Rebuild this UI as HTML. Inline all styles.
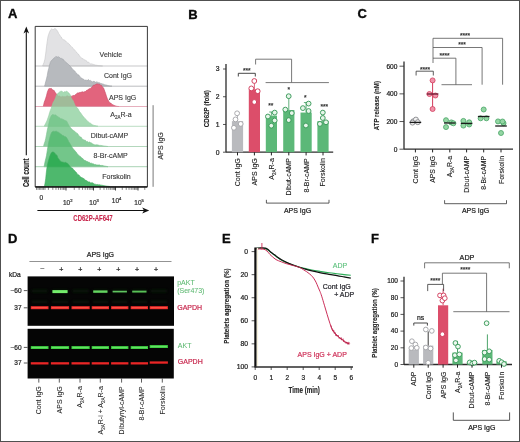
<!DOCTYPE html>
<html><head><meta charset="utf-8"><style>
html,body{margin:0;padding:0;background:#fff;}
body{width:520px;height:442px;overflow:hidden;}
svg{display:block;font-family:"Liberation Sans", sans-serif;will-change:transform;}
</style></head><body>
<svg width="520" height="442" viewBox="0 0 520 442">
<rect x="0" y="0" width="520" height="442" fill="#fff"/>
<text x="7.9" y="18.3" font-size="13" text-anchor="start" fill="#0a0a0a" font-weight="bold" stroke="#0a0a0a" stroke-width="0.35" >A</text>
<text x="188.3" y="18.5" font-size="13" text-anchor="start" fill="#0a0a0a" font-weight="bold" stroke="#0a0a0a" stroke-width="0.35" >B</text>
<text x="357.6" y="18.2" font-size="13" text-anchor="start" fill="#0a0a0a" font-weight="bold" stroke="#0a0a0a" stroke-width="0.35" >C</text>
<text x="8.0" y="242.5" font-size="13" text-anchor="start" fill="#0a0a0a" font-weight="bold" stroke="#0a0a0a" stroke-width="0.35" >D</text>
<text x="221.9" y="242.6" font-size="13" text-anchor="start" fill="#0a0a0a" font-weight="bold" stroke="#0a0a0a" stroke-width="0.35" >E</text>
<text x="371" y="242.6" font-size="13" text-anchor="start" fill="#0a0a0a" font-weight="bold" stroke="#0a0a0a" stroke-width="0.35" >F</text>
<path d="M42.60,66.00 L43.22,64.54 L44.10,62.26 L44.90,59.30 L45.75,53.16 L46.50,46.84 L47.21,41.52 L48.00,36.55 L48.75,34.19 L49.59,32.00 L50.30,30.51 L50.83,29.65 L51.50,28.99 L52.06,29.38 L52.75,29.46 L53.51,29.52 L54.26,28.90 L54.90,28.62 L55.75,28.99 L56.47,29.63 L57.20,30.70 L57.94,31.90 L58.67,33.52 L59.50,34.65 L60.04,35.58 L60.61,36.46 L61.21,36.94 L61.87,38.31 L62.60,39.04 L63.18,39.77 L63.80,39.83 L64.47,40.07 L65.15,40.58 L65.84,41.19 L66.53,42.03 L67.20,42.65 L67.86,43.05 L68.51,43.40 L69.17,44.03 L69.82,45.23 L70.48,45.56 L71.14,46.39 L71.80,47.23 L72.47,47.43 L73.14,48.40 L73.82,49.70 L74.49,49.72 L75.17,50.63 L75.84,51.53 L76.50,52.11 L77.15,53.15 L77.79,53.85 L78.43,54.07 L79.07,55.22 L79.71,56.08 L80.35,56.91 L81.00,57.79 L81.66,58.19 L82.33,58.58 L83.01,58.59 L83.68,59.45 L84.36,59.75 L85.03,60.18 L85.70,60.37 L86.35,60.76 L86.97,61.31 L87.59,62.37 L88.22,62.16 L88.87,62.44 L89.56,63.14 L90.30,63.85 L90.86,64.08 L91.44,63.89 L92.05,63.82 L92.67,64.25 L93.31,64.40 L93.95,64.51 L94.60,64.83 L95.24,65.05 L95.88,65.14 L96.50,65.24 L97.14,65.36 L97.82,65.51 L98.53,65.58 L99.24,65.65 L99.94,65.73 L100.60,65.76 L101.22,65.85 L101.77,65.91 L102.24,65.96 L102.60,66.00 L102.6,66.0 L42.6,66.0 Z" fill="#e2e2e4" fill-opacity="1.0" stroke="#c6c6c8" stroke-width="0.6"/>
<line x1="35.2" y1="66.0" x2="147.4" y2="66.0" stroke="#b9b9bb" stroke-width="0.8"/>
<text x="99.6" y="57.0" font-size="7" text-anchor="start" fill="#3a3a3a" font-weight="normal" stroke="#3a3a3a" stroke-width="0.14" >Vehicle</text>
<path d="M44.50,86.20 L45.04,84.48 L45.80,81.35 L46.50,78.87 L47.23,75.63 L48.00,71.16 L48.68,68.67 L49.44,65.38 L50.30,62.45 L50.87,61.35 L51.48,60.61 L52.12,59.84 L52.77,59.54 L53.40,58.55 L54.02,57.83 L54.64,57.69 L55.27,57.14 L55.89,56.47 L56.50,56.70 L57.10,57.11 L57.70,56.91 L58.30,56.70 L58.90,57.16 L59.50,57.52 L60.09,57.75 L60.66,58.51 L61.25,58.27 L61.88,59.07 L62.60,58.97 L63.18,59.25 L63.80,60.11 L64.47,61.03 L65.15,61.73 L65.84,62.23 L66.53,62.73 L67.20,63.29 L67.86,64.00 L68.51,64.44 L69.17,65.12 L69.82,65.90 L70.48,66.45 L71.14,67.32 L71.80,68.06 L72.47,69.28 L73.14,69.77 L73.82,70.18 L74.49,70.78 L75.17,71.58 L75.84,72.65 L76.50,73.15 L77.15,73.97 L77.79,75.21 L78.43,74.80 L79.07,75.32 L79.71,76.32 L80.35,77.16 L81.00,77.77 L81.66,78.06 L82.33,78.72 L83.01,79.10 L83.68,79.17 L84.36,80.26 L85.03,80.29 L85.70,80.11 L86.35,80.21 L86.97,80.26 L87.59,80.36 L88.22,79.59 L88.87,79.91 L89.56,80.63 L90.30,80.41 L90.86,80.68 L91.44,81.23 L92.05,81.57 L92.67,82.03 L93.31,81.34 L93.95,81.46 L94.60,81.61 L95.24,82.07 L95.88,82.54 L96.50,81.67 L97.11,82.44 L97.72,82.17 L98.33,82.70 L98.94,82.47 L99.55,82.85 L100.16,83.37 L100.77,83.39 L101.38,83.55 L101.99,83.84 L102.60,83.93 L103.23,84.03 L103.88,84.45 L104.55,84.67 L105.22,84.70 L105.88,85.17 L106.53,85.08 L107.16,85.32 L107.75,85.43 L108.30,85.58 L108.80,85.74 L109.68,85.92 L110.45,86.04 L111.09,86.10 L111.61,86.15 L112.00,86.20 L112,86.2 L44.5,86.2 Z" fill="#b7babe" fill-opacity="1.0" stroke="#9ea1a6" stroke-width="0.6"/>
<line x1="35.2" y1="86.2" x2="147.4" y2="86.2" stroke="#a9acb0" stroke-width="0.8"/>
<text x="104" y="77.9" font-size="7" text-anchor="start" fill="#3a3a3a" font-weight="normal" stroke="#3a3a3a" stroke-width="0.14" >Cont IgG</text>
<path d="M43.20,106.50 L43.65,104.76 L44.31,102.02 L45.03,100.26 L45.70,98.24 L46.48,95.81 L47.24,92.54 L48.00,90.42 L48.77,88.76 L49.53,88.47 L50.30,88.64 L51.07,88.17 L51.83,89.09 L52.60,89.79 L53.37,90.24 L54.13,90.43 L54.90,92.08 L55.65,93.05 L56.40,93.95 L57.20,95.04 L57.81,95.56 L58.43,96.23 L59.13,95.82 L60.00,96.35 L60.52,96.76 L61.09,97.01 L61.70,96.65 L62.34,96.29 L63.01,96.69 L63.68,96.63 L64.35,96.62 L65.00,97.04 L65.66,96.75 L66.36,95.95 L67.06,96.14 L67.77,95.78 L68.46,96.43 L69.12,96.61 L69.74,96.37 L70.30,96.39 L71.04,96.50 L71.63,96.15 L72.16,96.17 L72.72,95.58 L73.40,95.47 L73.98,95.52 L74.60,95.50 L75.27,94.65 L75.95,94.59 L76.64,93.58 L77.33,93.18 L78.00,92.57 L78.66,93.11 L79.31,92.56 L79.97,92.54 L80.63,92.37 L81.29,92.23 L81.94,91.87 L82.60,91.83 L83.27,92.22 L83.96,91.80 L84.65,91.63 L85.33,91.60 L86.00,91.10 L86.62,90.37 L87.20,90.07 L87.92,90.15 L88.55,89.10 L89.13,88.63 L89.70,88.66 L90.30,88.40 L90.92,87.79 L91.54,87.48 L92.16,86.89 L92.78,85.95 L93.40,85.17 L94.02,84.89 L94.64,85.11 L95.27,84.66 L95.89,84.24 L96.50,84.04 L97.10,83.71 L97.70,84.04 L98.30,83.96 L98.90,84.53 L99.50,84.12 L100.13,84.93 L100.77,85.27 L101.41,85.28 L102.03,86.43 L102.60,87.08 L103.43,87.77 L104.16,89.43 L104.90,91.59 L105.64,93.56 L106.37,96.09 L107.20,98.28 L107.77,99.44 L108.38,100.40 L109.02,101.66 L109.67,102.47 L110.30,103.12 L110.92,102.99 L111.54,103.88 L112.16,104.52 L112.78,104.72 L113.40,104.97 L114.03,105.50 L114.67,105.55 L115.30,105.84 L115.92,106.13 L116.50,106.21 L117.23,106.36 L117.94,106.44 L118.56,106.47 L119.00,106.50 L119,106.5 L43.2,106.5 Z" fill="#e2647d" fill-opacity="1.0" stroke="#c94864" stroke-width="0.6"/>
<line x1="35.2" y1="106.5" x2="147.4" y2="106.5" stroke="#e09aac" stroke-width="0.8"/>
<text x="109" y="99.8" font-size="7" text-anchor="start" fill="#3a3a3a" font-weight="normal" stroke="#3a3a3a" stroke-width="0.14" >APS IgG</text>
<path d="M44.20,126.30 L44.80,125.10 L45.65,123.38 L46.50,121.64 L47.27,119.96 L48.03,117.72 L48.80,115.42 L49.57,112.81 L50.33,110.49 L51.10,108.63 L51.87,106.45 L52.63,104.06 L53.40,101.91 L54.17,101.05 L54.93,99.35 L55.70,97.60 L56.50,95.01 L57.29,94.09 L58.00,93.21 L58.80,92.74 L59.50,92.07 L60.19,91.42 L61.00,91.40 L61.74,91.00 L62.57,92.09 L63.40,92.45 L64.17,91.85 L64.94,91.76 L65.70,91.87 L66.50,91.28 L67.29,91.55 L68.00,92.27 L68.79,93.02 L69.50,93.80 L70.25,94.89 L71.10,97.48 L71.79,98.99 L72.55,99.90 L73.40,101.14 L73.97,102.93 L74.59,104.22 L75.23,105.70 L75.87,106.68 L76.50,107.12 L77.10,108.13 L77.70,108.33 L78.30,109.28 L78.90,110.41 L79.50,111.58 L80.11,112.17 L80.73,113.00 L81.36,113.96 L81.98,114.80 L82.60,115.69 L83.22,116.41 L83.84,117.02 L84.46,118.06 L85.08,118.74 L85.70,119.12 L86.30,119.66 L86.87,120.41 L87.45,121.03 L88.08,121.71 L88.80,122.29 L89.38,122.77 L90.00,123.15 L90.67,123.32 L91.35,123.97 L92.04,124.56 L92.73,124.90 L93.40,125.13 L94.10,125.41 L94.85,125.56 L95.61,125.70 L96.35,125.92 L97.02,126.06 L97.58,126.20 L98.00,126.30 L98,126.3 L44.2,126.3 Z" fill="#90d1a0" fill-opacity="0.8" stroke="#92cda0" stroke-width="0.6"/>
<line x1="35.2" y1="126.3" x2="147.4" y2="126.3" stroke="#a9d4b4" stroke-width="0.8"/>
<text x="110.3" y="117.4" font-size="7" text-anchor="start" fill="#3a3a3a" font-weight="normal" stroke="#3a3a3a" stroke-width="0.14" >A<tspan font-size="4.5" dy="2">2A</tspan><tspan dy="-2">R-a</tspan></text>
<path d="M43.50,146.50 L44.10,144.11 L44.94,141.72 L45.70,138.72 L46.49,134.47 L47.20,130.59 L48.00,127.04 L48.80,123.50 L49.51,120.12 L50.30,117.74 L51.01,116.36 L51.80,115.12 L52.60,114.54 L53.34,114.71 L54.07,114.86 L54.90,115.22 L55.47,114.85 L56.09,115.18 L56.73,115.88 L57.37,116.13 L58.00,116.86 L58.60,117.22 L59.20,117.64 L59.79,117.63 L60.39,118.64 L61.00,118.91 L61.64,118.73 L62.31,118.86 L62.98,119.87 L63.61,119.62 L64.20,120.01 L65.03,120.54 L65.77,120.73 L66.50,120.91 L67.24,122.15 L67.98,123.63 L68.80,125.31 L69.35,126.16 L69.94,126.77 L70.56,127.72 L71.18,128.48 L71.80,129.09 L72.41,129.63 L73.03,130.08 L73.66,130.87 L74.28,131.00 L74.90,131.48 L75.50,132.23 L76.07,132.43 L76.65,133.15 L77.28,133.34 L78.00,134.19 L78.58,135.22 L79.20,136.05 L79.87,136.58 L80.55,137.09 L81.24,137.24 L81.93,138.60 L82.60,139.14 L83.24,139.82 L83.87,139.75 L84.49,140.13 L85.12,139.99 L85.77,140.93 L86.46,141.66 L87.20,141.33 L87.76,141.80 L88.34,142.39 L88.95,142.08 L89.57,142.06 L90.21,142.41 L90.85,142.84 L91.50,143.00 L92.14,143.51 L92.78,143.91 L93.40,144.27 L94.01,144.52 L94.62,144.84 L95.23,144.99 L95.84,144.78 L96.45,144.83 L97.06,144.84 L97.67,144.90 L98.28,145.09 L98.89,145.24 L99.50,145.41 L100.13,145.38 L100.80,145.44 L101.48,145.61 L102.16,145.72 L102.84,145.82 L103.50,145.91 L104.12,145.97 L104.71,146.08 L105.24,146.15 L105.70,146.20 L106.84,146.34 L107.55,146.44 L108.00,146.50 L108,146.5 L43.5,146.5 Z" fill="#6fc386" fill-opacity="0.8" stroke="#7cc38f" stroke-width="0.6"/>
<line x1="35.2" y1="146.5" x2="147.4" y2="146.5" stroke="#9fcdab" stroke-width="0.8"/>
<text x="90.8" y="137.8" font-size="7" text-anchor="start" fill="#3a3a3a" font-weight="normal" stroke="#3a3a3a" stroke-width="0.14" >Dibut-cAMP</text>
<path d="M44.00,166.70 L44.47,164.60 L45.16,161.21 L45.89,158.33 L46.50,155.61 L47.31,150.40 L48.00,146.15 L48.74,142.12 L49.50,138.79 L50.25,135.93 L51.10,133.49 L51.81,132.19 L52.61,131.62 L53.40,131.29 L54.17,131.38 L54.93,131.43 L55.70,131.27 L56.44,131.19 L57.18,131.73 L58.00,132.15 L58.55,132.29 L59.14,132.85 L59.75,133.19 L60.38,133.72 L61.00,134.28 L61.64,134.40 L62.31,135.46 L62.98,135.33 L63.61,135.86 L64.20,136.02 L65.03,136.91 L65.77,136.68 L66.50,137.50 L67.27,138.75 L68.03,140.07 L68.80,141.89 L69.57,142.85 L70.33,144.31 L71.10,145.53 L71.84,146.85 L72.57,148.03 L73.40,149.04 L73.96,149.86 L74.55,150.14 L75.17,151.35 L75.82,151.66 L76.50,152.58 L77.09,153.92 L77.71,154.22 L78.35,154.77 L79.00,155.73 L79.65,156.17 L80.30,156.39 L80.94,157.08 L81.57,157.78 L82.20,158.41 L82.84,158.49 L83.51,159.55 L84.20,160.32 L84.81,160.37 L85.42,160.65 L86.04,160.76 L86.68,161.59 L87.35,161.53 L88.05,162.09 L88.80,162.18 L89.35,162.20 L89.92,162.75 L90.50,163.33 L91.10,163.31 L91.71,163.21 L92.34,163.65 L92.99,163.74 L93.64,163.96 L94.32,164.41 L95.00,164.62 L95.59,164.47 L96.21,164.95 L96.85,164.86 L97.51,165.00 L98.18,164.92 L98.85,165.02 L99.52,164.92 L100.18,165.35 L100.82,165.57 L101.44,165.46 L102.04,165.45 L102.60,165.50 L103.33,165.82 L104.05,165.94 L104.76,166.09 L105.45,166.21 L106.09,166.34 L106.68,166.43 L107.21,166.55 L107.65,166.63 L108.00,166.70 L108,166.7 L44,166.7 Z" fill="#50b86d" fill-opacity="0.8" stroke="#64b97c" stroke-width="0.6"/>
<line x1="35.2" y1="166.7" x2="147.4" y2="166.7" stroke="#92c6a0" stroke-width="0.8"/>
<text x="93.5" y="158" font-size="7" text-anchor="start" fill="#3a3a3a" font-weight="normal" stroke="#3a3a3a" stroke-width="0.14" >8-Br-cAMP</text>
<path d="M44.40,186.50 L45.00,183.31 L45.70,178.84 L46.09,174.73 L46.50,170.90 L47.16,166.14 L48.00,162.19 L48.71,159.63 L49.50,157.01 L50.30,154.87 L51.07,153.35 L51.83,152.34 L52.60,151.95 L53.37,152.08 L54.13,152.53 L54.90,153.14 L55.67,154.41 L56.43,154.77 L57.20,155.82 L57.97,158.18 L58.73,158.86 L59.50,160.10 L60.24,161.00 L60.97,161.48 L61.80,161.94 L62.37,161.99 L62.98,162.25 L63.62,162.34 L64.27,162.69 L64.90,162.15 L65.52,162.32 L66.14,162.82 L66.76,162.93 L67.38,163.17 L68.00,164.07 L68.62,164.43 L69.24,165.34 L69.86,166.19 L70.48,166.82 L71.10,167.50 L71.71,167.93 L72.31,168.01 L72.91,168.78 L73.54,169.65 L74.20,170.14 L74.78,170.79 L75.39,171.72 L76.01,172.02 L76.65,172.98 L77.31,174.20 L78.00,174.38 L78.62,174.90 L79.26,175.35 L79.92,176.38 L80.59,176.81 L81.26,177.47 L81.94,177.55 L82.60,178.02 L83.26,178.50 L83.91,178.41 L84.57,179.59 L85.23,180.26 L85.89,179.96 L86.54,180.76 L87.20,181.08 L87.84,181.58 L88.47,181.96 L89.09,181.69 L89.72,182.06 L90.37,182.92 L91.06,182.85 L91.80,182.82 L92.36,182.77 L92.94,182.88 L93.54,183.39 L94.16,184.02 L94.80,184.13 L95.44,184.22 L96.09,184.69 L96.73,184.50 L97.37,184.45 L98.00,184.67 L98.62,184.84 L99.25,184.77 L99.87,184.79 L100.50,185.02 L101.12,185.19 L101.75,185.17 L102.37,185.32 L102.99,185.42 L103.60,185.60 L104.20,185.69 L104.89,185.80 L105.63,185.89 L106.38,186.05 L107.12,186.18 L107.84,186.23 L108.51,186.32 L109.11,186.38 L109.61,186.45 L110.00,186.50 L110,186.5 L44.4,186.5 Z" fill="#22a649" fill-opacity="0.8" stroke="#42aa60" stroke-width="0.6"/>
<line x1="35.2" y1="186.5" x2="147.4" y2="186.5" stroke="#222" stroke-width="0.8"/>
<text x="102.3" y="178.8" font-size="7" text-anchor="start" fill="#3a3a3a" font-weight="normal" stroke="#3a3a3a" stroke-width="0.14" >Forskolin</text>
<line x1="35.2" y1="26.4" x2="147.4" y2="26.4" stroke="#222" stroke-width="0.9"/>
<line x1="35.2" y1="26.4" x2="35.2" y2="186.9" stroke="#222" stroke-width="0.9"/>
<line x1="147.4" y1="26.4" x2="147.4" y2="186.9" stroke="#222" stroke-width="0.9"/>
<line x1="35.2" y1="187.20000000000002" x2="147.4" y2="187.20000000000002" stroke="#111" stroke-width="1.3"/>
<line x1="66" y1="186.9" x2="66" y2="190.5" stroke="#111" stroke-width="0.8"/>
<line x1="93.5" y1="186.9" x2="93.5" y2="190.5" stroke="#111" stroke-width="0.8"/>
<line x1="115.5" y1="186.9" x2="115.5" y2="190.5" stroke="#111" stroke-width="0.8"/>
<line x1="138" y1="186.9" x2="138" y2="190.5" stroke="#111" stroke-width="0.8"/>
<line x1="48.385955890732326" y1="186.9" x2="48.385955890732326" y2="189.9" stroke="#222" stroke-width="0.55"/>
<line x1="52.82345561893549" y1="186.9" x2="52.82345561893549" y2="189.9" stroke="#222" stroke-width="0.55"/>
<line x1="55.971911781464655" y1="186.9" x2="55.971911781464655" y2="189.9" stroke="#222" stroke-width="0.55"/>
<line x1="58.41404410926768" y1="186.9" x2="58.41404410926768" y2="189.9" stroke="#222" stroke-width="0.55"/>
<line x1="60.40941150966782" y1="186.9" x2="60.40941150966782" y2="189.9" stroke="#222" stroke-width="0.55"/>
<line x1="62.09647060835927" y1="186.9" x2="62.09647060835927" y2="189.9" stroke="#222" stroke-width="0.55"/>
<line x1="63.55786767219698" y1="186.9" x2="63.55786767219698" y2="189.9" stroke="#222" stroke-width="0.55"/>
<line x1="64.84691123787098" y1="186.9" x2="64.84691123787098" y2="189.9" stroke="#222" stroke-width="0.55"/>
<line x1="74.27832488075948" y1="186.9" x2="74.27832488075948" y2="189.9" stroke="#222" stroke-width="0.55"/>
<line x1="79.12083450479072" y1="186.9" x2="79.12083450479072" y2="189.9" stroke="#222" stroke-width="0.55"/>
<line x1="82.55664976151897" y1="186.9" x2="82.55664976151897" y2="189.9" stroke="#222" stroke-width="0.55"/>
<line x1="85.22167511924052" y1="186.9" x2="85.22167511924052" y2="189.9" stroke="#222" stroke-width="0.55"/>
<line x1="87.3991593855502" y1="186.9" x2="87.3991593855502" y2="189.9" stroke="#222" stroke-width="0.55"/>
<line x1="89.24019610039207" y1="186.9" x2="89.24019610039207" y2="189.9" stroke="#222" stroke-width="0.55"/>
<line x1="90.83497464227844" y1="186.9" x2="90.83497464227844" y2="189.9" stroke="#222" stroke-width="0.55"/>
<line x1="92.24166900958143" y1="186.9" x2="92.24166900958143" y2="189.9" stroke="#222" stroke-width="0.55"/>
<line x1="100.12265990460759" y1="186.9" x2="100.12265990460759" y2="189.9" stroke="#222" stroke-width="0.55"/>
<line x1="103.99666760383258" y1="186.9" x2="103.99666760383258" y2="189.9" stroke="#222" stroke-width="0.55"/>
<line x1="106.74531980921518" y1="186.9" x2="106.74531980921518" y2="189.9" stroke="#222" stroke-width="0.55"/>
<line x1="108.87734009539241" y1="186.9" x2="108.87734009539241" y2="189.9" stroke="#222" stroke-width="0.55"/>
<line x1="110.61932750844016" y1="186.9" x2="110.61932750844016" y2="189.9" stroke="#222" stroke-width="0.55"/>
<line x1="112.09215688031365" y1="186.9" x2="112.09215688031365" y2="189.9" stroke="#222" stroke-width="0.55"/>
<line x1="113.36797971382276" y1="186.9" x2="113.36797971382276" y2="189.9" stroke="#222" stroke-width="0.55"/>
<line x1="114.49333520766515" y1="186.9" x2="114.49333520766515" y2="189.9" stroke="#222" stroke-width="0.55"/>
<line x1="122.27317490243958" y1="186.9" x2="122.27317490243958" y2="189.9" stroke="#222" stroke-width="0.55"/>
<line x1="126.23522823119241" y1="186.9" x2="126.23522823119241" y2="189.9" stroke="#222" stroke-width="0.55"/>
<line x1="129.04634980487916" y1="186.9" x2="129.04634980487916" y2="189.9" stroke="#222" stroke-width="0.55"/>
<line x1="131.22682509756044" y1="186.9" x2="131.22682509756044" y2="189.9" stroke="#222" stroke-width="0.55"/>
<line x1="133.008403133632" y1="186.9" x2="133.008403133632" y2="189.9" stroke="#222" stroke-width="0.55"/>
<line x1="134.5147059003208" y1="186.9" x2="134.5147059003208" y2="189.9" stroke="#222" stroke-width="0.55"/>
<line x1="135.81952470731872" y1="186.9" x2="135.81952470731872" y2="189.9" stroke="#222" stroke-width="0.55"/>
<line x1="136.97045646238482" y1="186.9" x2="136.97045646238482" y2="189.9" stroke="#222" stroke-width="0.55"/>
<line x1="144.77317490243956" y1="186.9" x2="144.77317490243956" y2="189.9" stroke="#222" stroke-width="0.55"/>
<line x1="36.5" y1="186.9" x2="36.5" y2="189.9" stroke="#222" stroke-width="0.55"/>
<line x1="38" y1="186.9" x2="38" y2="189.9" stroke="#222" stroke-width="0.55"/>
<line x1="39.4" y1="186.9" x2="39.4" y2="189.9" stroke="#222" stroke-width="0.55"/>
<line x1="40.8" y1="186.9" x2="40.8" y2="189.9" stroke="#222" stroke-width="0.55"/>
<line x1="42.2" y1="186.9" x2="42.2" y2="189.9" stroke="#222" stroke-width="0.55"/>
<line x1="43.6" y1="186.9" x2="43.6" y2="189.9" stroke="#222" stroke-width="0.55"/>
<line x1="45" y1="186.9" x2="45" y2="189.9" stroke="#222" stroke-width="0.55"/>
<text x="41.2" y="200.0" font-size="6.5" text-anchor="middle" fill="#333" font-weight="normal" stroke="#333" stroke-width="0.22" >0</text>
<text x="67.8" y="204.5" font-size="6.5" text-anchor="middle" fill="#333" font-weight="normal" stroke="#333" stroke-width="0.22" >10<tspan font-size="4.2" dy="-2.8">2</tspan></text>
<text x="94.1" y="204.5" font-size="6.5" text-anchor="middle" fill="#333" font-weight="normal" stroke="#333" stroke-width="0.22" >10<tspan font-size="4.2" dy="-2.8">3</tspan></text>
<text x="116.6" y="203.0" font-size="6.5" text-anchor="middle" fill="#333" font-weight="normal" stroke="#333" stroke-width="0.22" >10<tspan font-size="4.2" dy="-2.8">4</tspan></text>
<text x="139.1" y="204.5" font-size="6.5" text-anchor="middle" fill="#333" font-weight="normal" stroke="#333" stroke-width="0.22" >10<tspan font-size="4.2" dy="-2.8">5</tspan></text>
<line x1="26.3" y1="30" x2="26.3" y2="155.2" stroke="#111" stroke-width="1.1"/>
<path d="M26.3,26.6 L23.5,33.4 L26.3,31.6 L29.1,33.4 Z" fill="#111"/>
<line x1="37.4" y1="210.5" x2="146" y2="210.5" stroke="#111" stroke-width="1.0"/>
<path d="M149.2,210.5 L142.2,207.5 L144.0,210.5 L142.2,213.5 Z" fill="#111"/>
<text x="28.9" y="172.8" font-size="8.8" text-anchor="middle" fill="#222" font-weight="bold" textLength="28.6" lengthAdjust="spacingAndGlyphs" stroke="#222" stroke-width="0.12" transform="rotate(-90 28.9 172.8)">Cell count</text>
<text x="93.0" y="221.4" font-size="9.2" text-anchor="middle" fill="#c8284e" font-weight="bold" textLength="39.4" lengthAdjust="spacingAndGlyphs" stroke="#c8284e" stroke-width="0.12">CD62P-AF647</text>
<line x1="153.1" y1="105.2" x2="153.1" y2="186.8" stroke="#6a6a6a" stroke-width="0.9"/>
<text x="163.2" y="145.8" font-size="7" text-anchor="middle" fill="#444" font-weight="normal" stroke="#444" stroke-width="0.22" transform="rotate(-90 163.2 145.8)" >APS IgG</text>
<line x1="226" y1="64" x2="226" y2="152.2" stroke="#2c2c2c" stroke-width="1.3"/>
<line x1="226" y1="152.2" x2="333.2" y2="152.2" stroke="#2c2c2c" stroke-width="1.3"/>
<line x1="223" y1="152.2" x2="226" y2="152.2" stroke="#2c2c2c" stroke-width="0.8"/>
<text x="219.5" y="154.5" font-size="6.8" text-anchor="end" fill="#222" font-weight="normal" stroke="#222" stroke-width="0.22" >0</text>
<line x1="223" y1="124.46999999999998" x2="226" y2="124.46999999999998" stroke="#2c2c2c" stroke-width="0.8"/>
<text x="219.5" y="126.76999999999998" font-size="6.8" text-anchor="end" fill="#222" font-weight="normal" stroke="#222" stroke-width="0.22" >1</text>
<line x1="223" y1="96.73999999999998" x2="226" y2="96.73999999999998" stroke="#2c2c2c" stroke-width="0.8"/>
<text x="219.5" y="99.03999999999998" font-size="6.8" text-anchor="end" fill="#222" font-weight="normal" stroke="#222" stroke-width="0.22" >2</text>
<line x1="223" y1="69.00999999999999" x2="226" y2="69.00999999999999" stroke="#2c2c2c" stroke-width="0.8"/>
<text x="219.5" y="71.30999999999999" font-size="6.8" text-anchor="end" fill="#222" font-weight="normal" stroke="#222" stroke-width="0.22" >3</text>
<text x="209.3" y="108.7" font-size="7.8" text-anchor="middle" fill="#222" font-weight="bold" textLength="37.3" lengthAdjust="spacingAndGlyphs" stroke="#222" stroke-width="0.12" transform="rotate(-90 209.3 108.7)">CD62P (fold)</text>
<rect x="231.9" y="121.14239999999998" width="11.2" height="31.057600000000008" fill="#b9babe" />
<line x1="237.5" y1="121.14239999999998" x2="237.5" y2="112.82339999999999" stroke="#a6a7ab" stroke-width="0.8"/>
<line x1="235.3" y1="112.82339999999999" x2="239.7" y2="112.82339999999999" stroke="#a6a7ab" stroke-width="0.8"/>
<circle cx="237.1" cy="113.3" r="2.4" fill="#fff" stroke="#a6a7ab" stroke-width="0.95"/>
<circle cx="235.5" cy="119.4" r="2.4" fill="#fff" stroke="#a6a7ab" stroke-width="0.95"/>
<circle cx="233.9" cy="127.8" r="2.4" fill="#fff" stroke="#a6a7ab" stroke-width="0.95"/>
<circle cx="240.7" cy="123.9" r="2.4" fill="#fff" stroke="#a6a7ab" stroke-width="0.95"/>
<line x1="237.5" y1="152.2" x2="237.5" y2="155.39999999999998" stroke="#222" stroke-width="1.0"/>
<rect x="248.8" y="89.25289999999998" width="11.2" height="62.947100000000006" fill="#dc4e6a" />
<line x1="254.4" y1="89.25289999999998" x2="254.4" y2="79.54739999999998" stroke="#d23c5c" stroke-width="0.8"/>
<line x1="252.20000000000002" y1="79.54739999999998" x2="256.6" y2="79.54739999999998" stroke="#d23c5c" stroke-width="0.8"/>
<circle cx="254.3" cy="81" r="2.4" fill="#fff" stroke="#d23c5c" stroke-width="0.95"/>
<circle cx="251.3" cy="88.4" r="2.4" fill="#fff" stroke="#d23c5c" stroke-width="0.95"/>
<circle cx="257.7" cy="91.2" r="2.4" fill="#fff" stroke="#d23c5c" stroke-width="0.95"/>
<circle cx="254.3" cy="102" r="2.4" fill="#fff" stroke="#d23c5c" stroke-width="0.95"/>
<line x1="254.4" y1="152.2" x2="254.4" y2="155.39999999999998" stroke="#222" stroke-width="1.0"/>
<rect x="265.79999999999995" y="115.59639999999999" width="11.2" height="36.6036" fill="#5cb878" />
<line x1="271.4" y1="115.59639999999999" x2="271.4" y2="111.99149999999999" stroke="#3a9a5a" stroke-width="0.8"/>
<line x1="269.2" y1="111.99149999999999" x2="273.59999999999997" y2="111.99149999999999" stroke="#3a9a5a" stroke-width="0.8"/>
<circle cx="274.7" cy="112.6" r="2.4" fill="#e6f5e9" stroke="#3a9a5a" stroke-width="0.95"/>
<circle cx="267.9" cy="116.5" r="2.4" fill="#e6f5e9" stroke="#3a9a5a" stroke-width="0.95"/>
<circle cx="274.7" cy="120.5" r="2.4" fill="#e6f5e9" stroke="#3a9a5a" stroke-width="0.95"/>
<circle cx="271.3" cy="125.7" r="2.4" fill="#e6f5e9" stroke="#3a9a5a" stroke-width="0.95"/>
<line x1="271.4" y1="152.2" x2="271.4" y2="155.39999999999998" stroke="#222" stroke-width="1.0"/>
<rect x="283.2" y="110.0504" width="11.2" height="42.14959999999999" fill="#5cb878" />
<line x1="288.8" y1="110.0504" x2="288.8" y2="95.90809999999999" stroke="#3a9a5a" stroke-width="0.8"/>
<line x1="286.6" y1="95.90809999999999" x2="291.0" y2="95.90809999999999" stroke="#3a9a5a" stroke-width="0.8"/>
<circle cx="288.7" cy="96.2" r="2.4" fill="#e6f5e9" stroke="#3a9a5a" stroke-width="0.95"/>
<circle cx="285.3" cy="109.6" r="2.4" fill="#e6f5e9" stroke="#3a9a5a" stroke-width="0.95"/>
<circle cx="291.8" cy="113.1" r="2.4" fill="#e6f5e9" stroke="#3a9a5a" stroke-width="0.95"/>
<circle cx="288.7" cy="120.1" r="2.4" fill="#e6f5e9" stroke="#3a9a5a" stroke-width="0.95"/>
<line x1="288.8" y1="152.2" x2="288.8" y2="155.39999999999998" stroke="#222" stroke-width="1.0"/>
<rect x="300.5" y="112.5461" width="11.2" height="39.65389999999999" fill="#5cb878" />
<line x1="306.1" y1="112.5461" x2="306.1" y2="102.56329999999998" stroke="#3a9a5a" stroke-width="0.8"/>
<line x1="303.90000000000003" y1="102.56329999999998" x2="308.3" y2="102.56329999999998" stroke="#3a9a5a" stroke-width="0.8"/>
<circle cx="302.9" cy="108.1" r="2.4" fill="#e6f5e9" stroke="#3a9a5a" stroke-width="0.95"/>
<circle cx="308.6" cy="103.6" r="2.4" fill="#e6f5e9" stroke="#3a9a5a" stroke-width="0.95"/>
<circle cx="308.6" cy="111" r="2.4" fill="#e6f5e9" stroke="#3a9a5a" stroke-width="0.95"/>
<circle cx="305.9" cy="125.5" r="2.4" fill="#e6f5e9" stroke="#3a9a5a" stroke-width="0.95"/>
<line x1="306.1" y1="152.2" x2="306.1" y2="155.39999999999998" stroke="#222" stroke-width="1.0"/>
<rect x="317.4" y="121.14239999999998" width="11.2" height="31.057600000000008" fill="#5cb878" />
<line x1="323.0" y1="121.14239999999998" x2="323.0" y2="111.99149999999999" stroke="#3a9a5a" stroke-width="0.8"/>
<line x1="320.8" y1="111.99149999999999" x2="325.2" y2="111.99149999999999" stroke="#3a9a5a" stroke-width="0.8"/>
<circle cx="322.8" cy="112.6" r="2.4" fill="#e6f5e9" stroke="#3a9a5a" stroke-width="0.95"/>
<circle cx="319.9" cy="123.9" r="2.4" fill="#e6f5e9" stroke="#3a9a5a" stroke-width="0.95"/>
<circle cx="326" cy="122.3" r="2.4" fill="#e6f5e9" stroke="#3a9a5a" stroke-width="0.95"/>
<circle cx="322.8" cy="118" r="2.4" fill="#e6f5e9" stroke="#3a9a5a" stroke-width="0.95"/>
<line x1="323.0" y1="152.2" x2="323.0" y2="155.39999999999998" stroke="#222" stroke-width="1.0"/>
<text x="240.0" y="158.2" font-size="7.0" text-anchor="end" fill="#222" font-weight="normal" stroke="#222" stroke-width="0.12" transform="rotate(-90 240.0 158.2)" >Cont IgG</text>
<text x="256.9" y="158.2" font-size="7.0" text-anchor="end" fill="#222" font-weight="normal" stroke="#222" stroke-width="0.12" transform="rotate(-90 256.9 158.2)" >APS IgG</text>
<text x="273.9" y="158.2" font-size="7.0" text-anchor="end" fill="#222" font-weight="normal" stroke="#222" stroke-width="0.12" transform="rotate(-90 273.9 158.2)" >A<tspan font-size="4.5" dy="2">2A</tspan><tspan dy="-2">R-a</tspan></text>
<text x="291.3" y="158.2" font-size="7.0" text-anchor="end" fill="#222" font-weight="normal" stroke="#222" stroke-width="0.12" transform="rotate(-90 291.3 158.2)" >Dibut-cAMP</text>
<text x="308.6" y="158.2" font-size="7.0" text-anchor="end" fill="#222" font-weight="normal" stroke="#222" stroke-width="0.12" transform="rotate(-90 308.6 158.2)" >8-Br-cAMP</text>
<text x="325.5" y="158.2" font-size="7.0" text-anchor="end" fill="#222" font-weight="normal" stroke="#222" stroke-width="0.12" transform="rotate(-90 325.5 158.2)" >Forskolin</text>
<polyline points="238.3,76.5 238.3,73.3 255.3,73.3 255.3,76.5" fill="none" stroke="#333" stroke-width="0.9"/>
<text x="246.7" y="72.5" font-size="6.5" text-anchor="middle" fill="#333" font-weight="bold" stroke="#333" stroke-width="0.1" >***</text>
<polyline points="255.6,64.5 255.6,59.2 291.6,59.2 291.6,82.6" fill="none" stroke="#6a6a6a" stroke-width="0.9"/>
<line x1="265.6" y1="82.6" x2="328.9" y2="82.6" stroke="#6a6a6a" stroke-width="0.9"/>
<text x="270.8" y="108.3" font-size="6.5" text-anchor="middle" fill="#333" font-weight="bold" stroke="#333" stroke-width="0.1" >**</text>
<text x="288.7" y="91.8" font-size="6.5" text-anchor="middle" fill="#333" font-weight="bold" stroke="#333" stroke-width="0.1" >*</text>
<text x="305.2" y="100.3" font-size="6.5" text-anchor="middle" fill="#333" font-weight="bold" stroke="#333" stroke-width="0.1" >*</text>
<text x="324.3" y="109.0" font-size="6.5" text-anchor="middle" fill="#333" font-weight="bold" stroke="#333" stroke-width="0.1" >***</text>
<polyline points="266.4,199.8 266.4,203.1 329,203.1 329,199.8" fill="none" stroke="#333" stroke-width="0.8"/>
<text x="297.5" y="212.5" font-size="7" text-anchor="middle" fill="#222" font-weight="normal" stroke="#222" stroke-width="0.22" >APS IgG</text>
<line x1="404.0" y1="61.5" x2="404.0" y2="149.2" stroke="#2c2c2c" stroke-width="1.3"/>
<line x1="404.0" y1="149.2" x2="513" y2="149.2" stroke="#2c2c2c" stroke-width="1.3"/>
<line x1="399.5" y1="149.2" x2="404.0" y2="149.2" stroke="#2c2c2c" stroke-width="0.8"/>
<text x="397.4" y="151.5" font-size="6.6" text-anchor="end" fill="#222" font-weight="normal" stroke="#222" stroke-width="0.22" >0</text>
<line x1="399.5" y1="121.53333333333333" x2="404.0" y2="121.53333333333333" stroke="#2c2c2c" stroke-width="0.8"/>
<text x="397.4" y="123.83333333333333" font-size="6.6" text-anchor="end" fill="#222" font-weight="normal" stroke="#222" stroke-width="0.22" >200</text>
<line x1="399.5" y1="93.86666666666667" x2="404.0" y2="93.86666666666667" stroke="#2c2c2c" stroke-width="0.8"/>
<text x="397.4" y="96.16666666666667" font-size="6.6" text-anchor="end" fill="#222" font-weight="normal" stroke="#222" stroke-width="0.22" >400</text>
<line x1="399.5" y1="66.2" x2="404.0" y2="66.2" stroke="#2c2c2c" stroke-width="0.8"/>
<text x="397.4" y="68.5" font-size="6.6" text-anchor="end" fill="#222" font-weight="normal" stroke="#222" stroke-width="0.22" >600</text>
<text x="379.1" y="105.7" font-size="7.8" text-anchor="middle" fill="#222" font-weight="bold" textLength="49.3" lengthAdjust="spacingAndGlyphs" stroke="#222" stroke-width="0.12" transform="rotate(-90 379.1 105.7)">ATP release (nM)</text>
<circle cx="413.3" cy="121.3" r="2.5" fill="#f2f2f2" stroke="#7a7b80" stroke-width="0.8"/>
<circle cx="415.9" cy="119.6" r="2.5" fill="#f2f2f2" stroke="#7a7b80" stroke-width="0.8"/>
<circle cx="417.8" cy="122.2" r="2.5" fill="#f2f2f2" stroke="#7a7b80" stroke-width="0.8"/>
<circle cx="412.5" cy="122.6" r="2.5" fill="#f2f2f2" stroke="#7a7b80" stroke-width="0.8"/>
<line x1="409.59999999999997" y1="122.4" x2="421.2" y2="122.4" stroke="#1a1a1a" stroke-width="1.3"/>
<line x1="415.4" y1="149.2" x2="415.4" y2="152.39999999999998" stroke="#222" stroke-width="1.0"/>
<line x1="432.6" y1="80.4" x2="432.6" y2="109" stroke="#d23c5c" stroke-width="1.0"/>
<circle cx="432.6" cy="80.4" r="2.5" fill="#f093aa" stroke="#d23c5c" stroke-width="0.8"/>
<circle cx="429.4" cy="94" r="2.5" fill="#f093aa" stroke="#d23c5c" stroke-width="0.8"/>
<circle cx="435.4" cy="95.5" r="2.5" fill="#f093aa" stroke="#d23c5c" stroke-width="0.8"/>
<circle cx="432.6" cy="109" r="2.5" fill="#f093aa" stroke="#d23c5c" stroke-width="0.8"/>
<line x1="426.8" y1="94.0" x2="438.40000000000003" y2="94.0" stroke="#6a1a30" stroke-width="1.3"/>
<line x1="432.6" y1="149.2" x2="432.6" y2="152.39999999999998" stroke="#222" stroke-width="1.0"/>
<circle cx="446" cy="120.2" r="2.5" fill="#95d6a4" stroke="#46a464" stroke-width="0.8"/>
<circle cx="446" cy="127.1" r="2.5" fill="#95d6a4" stroke="#46a464" stroke-width="0.8"/>
<circle cx="451.3" cy="122.4" r="2.5" fill="#95d6a4" stroke="#46a464" stroke-width="0.8"/>
<circle cx="453.4" cy="123.3" r="2.5" fill="#95d6a4" stroke="#46a464" stroke-width="0.8"/>
<line x1="444.0" y1="123.0" x2="455.6" y2="123.0" stroke="#1a1a1a" stroke-width="1.3"/>
<line x1="449.8" y1="149.2" x2="449.8" y2="152.39999999999998" stroke="#222" stroke-width="1.0"/>
<circle cx="463.4" cy="120.9" r="2.5" fill="#95d6a4" stroke="#46a464" stroke-width="0.8"/>
<circle cx="469.2" cy="124.5" r="2.5" fill="#95d6a4" stroke="#46a464" stroke-width="0.8"/>
<circle cx="463.4" cy="125.6" r="2.5" fill="#95d6a4" stroke="#46a464" stroke-width="0.8"/>
<circle cx="469.2" cy="122.3" r="2.5" fill="#95d6a4" stroke="#46a464" stroke-width="0.8"/>
<line x1="460.8" y1="123.4" x2="472.40000000000003" y2="123.4" stroke="#1a1a1a" stroke-width="1.3"/>
<line x1="466.6" y1="149.2" x2="466.6" y2="152.39999999999998" stroke="#222" stroke-width="1.0"/>
<circle cx="483.7" cy="109.5" r="2.5" fill="#95d6a4" stroke="#46a464" stroke-width="0.8"/>
<circle cx="480.6" cy="118.3" r="2.5" fill="#95d6a4" stroke="#46a464" stroke-width="0.8"/>
<circle cx="486.4" cy="118.3" r="2.5" fill="#95d6a4" stroke="#46a464" stroke-width="0.8"/>
<line x1="477.9" y1="116.5" x2="489.5" y2="116.5" stroke="#1a1a1a" stroke-width="1.3"/>
<line x1="483.7" y1="149.2" x2="483.7" y2="152.39999999999998" stroke="#222" stroke-width="1.0"/>
<circle cx="498" cy="121.4" r="2.5" fill="#95d6a4" stroke="#46a464" stroke-width="0.8"/>
<circle cx="503.5" cy="123.2" r="2.5" fill="#95d6a4" stroke="#46a464" stroke-width="0.8"/>
<circle cx="501" cy="133" r="2.5" fill="#95d6a4" stroke="#46a464" stroke-width="0.8"/>
<circle cx="502.5" cy="121.5" r="2.5" fill="#95d6a4" stroke="#46a464" stroke-width="0.8"/>
<line x1="495.2" y1="126.0" x2="506.8" y2="126.0" stroke="#1a1a1a" stroke-width="1.3"/>
<line x1="501.0" y1="149.2" x2="501.0" y2="152.39999999999998" stroke="#222" stroke-width="1.0"/>
<text x="417.9" y="156" font-size="6.9" text-anchor="end" fill="#222" font-weight="normal" stroke="#222" stroke-width="0.12" transform="rotate(-90 417.9 156)" >Cont IgG</text>
<text x="435.1" y="156" font-size="6.9" text-anchor="end" fill="#222" font-weight="normal" stroke="#222" stroke-width="0.12" transform="rotate(-90 435.1 156)" >APS IgG</text>
<text x="452.3" y="156" font-size="6.9" text-anchor="end" fill="#222" font-weight="normal" stroke="#222" stroke-width="0.12" transform="rotate(-90 452.3 156)" >A<tspan font-size="4.5" dy="2">2A</tspan><tspan dy="-2">R-a</tspan></text>
<text x="469.1" y="156" font-size="6.9" text-anchor="end" fill="#222" font-weight="normal" stroke="#222" stroke-width="0.12" transform="rotate(-90 469.1 156)" >Dibut-cAMP</text>
<text x="486.2" y="156" font-size="6.9" text-anchor="end" fill="#222" font-weight="normal" stroke="#222" stroke-width="0.12" transform="rotate(-90 486.2 156)" >8-Br-cAMP</text>
<text x="503.5" y="156" font-size="6.9" text-anchor="end" fill="#222" font-weight="normal" stroke="#222" stroke-width="0.12" transform="rotate(-90 503.5 156)" >Forskolin</text>
<polyline points="416.1,75.5 416.1,71.2 433.3,71.2 433.3,75.5" fill="none" stroke="#333" stroke-width="0.8"/>
<text x="425.1" y="71.9" font-size="6.5" text-anchor="middle" fill="#333" font-weight="bold" stroke="#333" stroke-width="0.1" >****</text>
<line x1="433.0" y1="38.3" x2="433.0" y2="63.0" stroke="#555" stroke-width="0.8"/>
<polyline points="433.0,38.3 502.6,38.3 502.6,84.7" fill="none" stroke="#555" stroke-width="0.8"/>
<polyline points="433.0,47.5 482.1,47.5 482.1,84.7" fill="none" stroke="#555" stroke-width="0.8"/>
<polyline points="433.0,58.2 455.9,58.2 455.9,84.7" fill="none" stroke="#555" stroke-width="0.8"/>
<line x1="441.5" y1="84.7" x2="472" y2="84.7" stroke="#555" stroke-width="0.8"/>
<text x="465" y="38.1" font-size="6.5" text-anchor="middle" fill="#333" font-weight="bold" stroke="#333" stroke-width="0.1" >****</text>
<text x="462" y="47.3" font-size="6.5" text-anchor="middle" fill="#333" font-weight="bold" stroke="#333" stroke-width="0.1" >***</text>
<text x="444.6" y="58.3" font-size="6.5" text-anchor="middle" fill="#333" font-weight="bold" stroke="#333" stroke-width="0.1" >****</text>
<polyline points="444.6,200.2 444.6,203.7 506.5,203.7 506.5,200.2" fill="none" stroke="#333" stroke-width="0.8"/>
<text x="475.5" y="213.0" font-size="7" text-anchor="middle" fill="#222" font-weight="normal" stroke="#222" stroke-width="0.22" >APS IgG</text>
<text x="100.4" y="256.8" font-size="7" text-anchor="middle" fill="#222" font-weight="normal" stroke="#222" stroke-width="0.22" >APS IgG</text>
<line x1="29.4" y1="261.5" x2="171.5" y2="261.5" stroke="#777" stroke-width="0.8"/>
<text x="42.4" y="270.3" font-size="6.5" text-anchor="middle" fill="#222" font-weight="normal" stroke="#222" stroke-width="0.22" >&#8211;</text>
<text x="61.3" y="271.8" font-size="7" text-anchor="middle" fill="#222" font-weight="normal" stroke="#222" stroke-width="0.22" >+</text>
<text x="80.3" y="271.8" font-size="7" text-anchor="middle" fill="#222" font-weight="normal" stroke="#222" stroke-width="0.22" >+</text>
<text x="99.3" y="271.8" font-size="7" text-anchor="middle" fill="#222" font-weight="normal" stroke="#222" stroke-width="0.22" >+</text>
<text x="118.4" y="271.8" font-size="7" text-anchor="middle" fill="#222" font-weight="normal" stroke="#222" stroke-width="0.22" >+</text>
<text x="137.1" y="271.8" font-size="7" text-anchor="middle" fill="#222" font-weight="normal" stroke="#222" stroke-width="0.22" >+</text>
<text x="156.1" y="271.8" font-size="7" text-anchor="middle" fill="#222" font-weight="normal" stroke="#222" stroke-width="0.22" >+</text>
<text x="8.9" y="276.8" font-size="6.6" text-anchor="start" fill="#222" font-weight="normal" stroke="#222" stroke-width="0.22" >kDa</text>
<defs><filter id="bl" x="-20%" y="-100%" width="140%" height="300%"><feGaussianBlur stdDeviation="0.45"/></filter><filter id="bl2" x="-20%" y="-200%" width="140%" height="500%"><feGaussianBlur stdDeviation="0.9"/></filter></defs>
<rect x="27.6" y="276.4" width="146.4" height="49.4" fill="#050505" />
<rect x="27.6" y="328.8" width="146.2" height="49.7" fill="#050505" />
<rect x="31.8" y="289.5" width="15.7" height="3" fill="#0c200c" filter="url(#bl2)" opacity="0.6"/>
<rect x="31.8" y="300.8" width="15.7" height="1.8" fill="#112a11" filter="url(#bl2)" opacity="0.55"/>
<rect x="30.8" y="306.2" width="17.7" height="3.0" fill="#f22a2a" filter="url(#bl)"/>
<rect x="31.8" y="307.0" width="15.7" height="1.3" fill="#ff5a4a" filter="url(#bl)" opacity="0.8"/>
<rect x="51.9" y="289.5" width="16.199999999999996" height="3" fill="#0c200c" filter="url(#bl2)" opacity="0.6"/>
<rect x="51.9" y="300.8" width="16.199999999999996" height="1.8" fill="#112a11" filter="url(#bl2)" opacity="0.55"/>
<rect x="52.4" y="290.1" width="15.199999999999996" height="3.0" fill="#74ec6c" filter="url(#bl)" opacity="1.0"/>
<rect x="50.9" y="306.2" width="18.199999999999996" height="3.0" fill="#f22a2a" filter="url(#bl)"/>
<rect x="51.9" y="307.0" width="16.199999999999996" height="1.3" fill="#ff5a4a" filter="url(#bl)" opacity="0.8"/>
<rect x="72.5" y="289.5" width="16.200000000000003" height="3" fill="#0c200c" filter="url(#bl2)" opacity="0.6"/>
<rect x="72.5" y="300.8" width="16.200000000000003" height="1.8" fill="#112a11" filter="url(#bl2)" opacity="0.55"/>
<rect x="71.5" y="306.2" width="18.200000000000003" height="3.0" fill="#f22a2a" filter="url(#bl)"/>
<rect x="72.5" y="307.0" width="16.200000000000003" height="1.3" fill="#ff5a4a" filter="url(#bl)" opacity="0.8"/>
<rect x="92.7" y="289.5" width="15.299999999999997" height="3" fill="#0c200c" filter="url(#bl2)" opacity="0.6"/>
<rect x="92.7" y="300.8" width="15.299999999999997" height="1.8" fill="#112a11" filter="url(#bl2)" opacity="0.55"/>
<rect x="93.2" y="290.40000000000003" width="14.299999999999997" height="2.4" fill="#6ae066" filter="url(#bl)" opacity="0.95"/>
<rect x="91.7" y="306.2" width="17.299999999999997" height="3.0" fill="#f22a2a" filter="url(#bl)"/>
<rect x="92.7" y="307.0" width="15.299999999999997" height="1.3" fill="#ff5a4a" filter="url(#bl)" opacity="0.8"/>
<rect x="112.1" y="289.5" width="15.300000000000011" height="3" fill="#0c200c" filter="url(#bl2)" opacity="0.6"/>
<rect x="112.1" y="300.8" width="15.300000000000011" height="1.8" fill="#112a11" filter="url(#bl2)" opacity="0.55"/>
<rect x="112.6" y="290.75" width="14.300000000000011" height="1.7" fill="#6ad86a" filter="url(#bl)" opacity="0.9"/>
<rect x="111.1" y="306.2" width="17.30000000000001" height="3.0" fill="#f22a2a" filter="url(#bl)"/>
<rect x="112.1" y="307.0" width="15.300000000000011" height="1.3" fill="#ff5a4a" filter="url(#bl)" opacity="0.8"/>
<rect x="131.7" y="289.5" width="15.300000000000011" height="3" fill="#0c200c" filter="url(#bl2)" opacity="0.6"/>
<rect x="131.7" y="300.8" width="15.300000000000011" height="1.8" fill="#112a11" filter="url(#bl2)" opacity="0.55"/>
<rect x="132.2" y="290.65000000000003" width="14.300000000000011" height="1.9" fill="#62d460" filter="url(#bl)" opacity="0.9"/>
<rect x="130.7" y="306.2" width="17.30000000000001" height="3.0" fill="#f22a2a" filter="url(#bl)"/>
<rect x="131.7" y="307.0" width="15.300000000000011" height="1.3" fill="#ff5a4a" filter="url(#bl)" opacity="0.8"/>
<rect x="150.7" y="289.5" width="16.200000000000017" height="3" fill="#0c200c" filter="url(#bl2)" opacity="0.6"/>
<rect x="150.7" y="300.8" width="16.200000000000017" height="1.8" fill="#112a11" filter="url(#bl2)" opacity="0.55"/>
<rect x="149.7" y="306.2" width="18.200000000000017" height="3.0" fill="#f22a2a" filter="url(#bl)"/>
<rect x="150.7" y="307.0" width="16.200000000000017" height="1.3" fill="#ff5a4a" filter="url(#bl)" opacity="0.8"/>
<rect x="30.8" y="346.1" width="17.7" height="2.9" fill="#3cd040" filter="url(#bl)"/>
<rect x="31.8" y="346.9" width="15.7" height="1.2" fill="#8cf08c" filter="url(#bl)" opacity="0.5"/>
<rect x="30.8" y="362.2" width="17.7" height="2.3" fill="#ea2626" filter="url(#bl)"/>
<rect x="50.9" y="346.1" width="18.199999999999996" height="2.9" fill="#3cd040" filter="url(#bl)"/>
<rect x="51.9" y="346.9" width="16.199999999999996" height="1.2" fill="#8cf08c" filter="url(#bl)" opacity="0.5"/>
<rect x="50.9" y="362.2" width="18.199999999999996" height="2.3" fill="#ea2626" filter="url(#bl)"/>
<rect x="71.5" y="346.1" width="18.200000000000003" height="2.9" fill="#3cd040" filter="url(#bl)"/>
<rect x="72.5" y="346.9" width="16.200000000000003" height="1.2" fill="#8cf08c" filter="url(#bl)" opacity="0.5"/>
<rect x="71.5" y="362.2" width="18.200000000000003" height="2.3" fill="#ea2626" filter="url(#bl)"/>
<rect x="91.7" y="346.1" width="17.299999999999997" height="2.9" fill="#3cd040" filter="url(#bl)"/>
<rect x="92.7" y="346.9" width="15.299999999999997" height="1.2" fill="#8cf08c" filter="url(#bl)" opacity="0.5"/>
<rect x="91.7" y="362.2" width="17.299999999999997" height="2.3" fill="#ea2626" filter="url(#bl)"/>
<rect x="111.1" y="346.1" width="17.30000000000001" height="2.9" fill="#3cd040" filter="url(#bl)"/>
<rect x="112.1" y="346.9" width="15.300000000000011" height="1.2" fill="#8cf08c" filter="url(#bl)" opacity="0.5"/>
<rect x="111.1" y="362.2" width="17.30000000000001" height="2.3" fill="#ea2626" filter="url(#bl)"/>
<rect x="130.7" y="346.1" width="17.30000000000001" height="2.9" fill="#3cd040" filter="url(#bl)"/>
<rect x="131.7" y="346.9" width="15.300000000000011" height="1.2" fill="#8cf08c" filter="url(#bl)" opacity="0.5"/>
<rect x="130.7" y="362.2" width="17.30000000000001" height="2.3" fill="#ea2626" filter="url(#bl)"/>
<rect x="149.7" y="345.1" width="18.200000000000017" height="2.9" fill="#3cd040" filter="url(#bl)"/>
<rect x="150.7" y="345.9" width="16.200000000000017" height="1.2" fill="#8cf08c" filter="url(#bl)" opacity="0.5"/>
<rect x="149.7" y="361.4" width="18.200000000000017" height="2.3" fill="#ea2626" filter="url(#bl)"/>
<line x1="23.8" y1="290.6" x2="27.6" y2="290.6" stroke="#333" stroke-width="0.8"/>
<text x="21.5" y="292.90000000000003" font-size="6.5" text-anchor="end" fill="#222" font-weight="normal" stroke="#222" stroke-width="0.22" >~60</text>
<line x1="23.8" y1="307.8" x2="27.6" y2="307.8" stroke="#333" stroke-width="0.8"/>
<text x="21.5" y="310.1" font-size="6.5" text-anchor="end" fill="#222" font-weight="normal" stroke="#222" stroke-width="0.22" >37</text>
<line x1="23.8" y1="347.4" x2="27.6" y2="347.4" stroke="#333" stroke-width="0.8"/>
<text x="21.5" y="349.7" font-size="6.5" text-anchor="end" fill="#222" font-weight="normal" stroke="#222" stroke-width="0.22" >~60</text>
<line x1="23.8" y1="363.0" x2="27.6" y2="363.0" stroke="#333" stroke-width="0.8"/>
<text x="21.5" y="365.3" font-size="6.5" text-anchor="end" fill="#222" font-weight="normal" stroke="#222" stroke-width="0.22" >37</text>
<text x="177.2" y="284.6" font-size="7" text-anchor="start" fill="#5cb870" font-weight="normal" stroke="#5cb870" stroke-width="0.05" >pAKT</text>
<text x="177.2" y="293.4" font-size="7" text-anchor="start" fill="#5cb870" font-weight="normal" stroke="#5cb870" stroke-width="0.05" >(Ser473)</text>
<text x="177.2" y="309.8" font-size="7" text-anchor="start" fill="#c8284e" font-weight="normal" stroke="#c8284e" stroke-width="0.2" >GAPDH</text>
<text x="177.8" y="347.5" font-size="7" text-anchor="start" fill="#5cb870" font-weight="normal" stroke="#5cb870" stroke-width="0.05" >AKT</text>
<text x="177.8" y="364.0" font-size="7" text-anchor="start" fill="#c8284e" font-weight="normal" stroke="#c8284e" stroke-width="0.2" >GAPDH</text>
<line x1="38.8" y1="378.5" x2="38.8" y2="382.6" stroke="#333" stroke-width="0.8"/>
<text x="41.3" y="386.2" font-size="7" text-anchor="end" fill="#2a2a2a" font-weight="normal" stroke="#2a2a2a" stroke-width="0.08" transform="rotate(-90 41.3 386.2)" >Cont IgG</text>
<line x1="59.3" y1="378.5" x2="59.3" y2="382.6" stroke="#333" stroke-width="0.8"/>
<text x="61.8" y="386.2" font-size="7" text-anchor="end" fill="#2a2a2a" font-weight="normal" stroke="#2a2a2a" stroke-width="0.08" transform="rotate(-90 61.8 386.2)" >APS IgG</text>
<line x1="80.0" y1="378.5" x2="80.0" y2="382.6" stroke="#333" stroke-width="0.8"/>
<text x="82.5" y="386.2" font-size="7" text-anchor="end" fill="#2a2a2a" font-weight="normal" stroke="#2a2a2a" stroke-width="0.08" transform="rotate(-90 82.5 386.2)" >A<tspan font-size="4.5" dy="2">2A</tspan><tspan dy="-2">R-a</tspan></text>
<line x1="100.3" y1="378.5" x2="100.3" y2="382.6" stroke="#333" stroke-width="0.8"/>
<text x="102.8" y="386.2" font-size="7" text-anchor="end" fill="#2a2a2a" font-weight="normal" stroke="#2a2a2a" stroke-width="0.08" transform="rotate(-90 102.8 386.2)" >A<tspan font-size="4.5" dy="2">2A</tspan><tspan dy="-2">R-i + A</tspan><tspan font-size="4.5" dy="2">2A</tspan><tspan dy="-2">R-a</tspan></text>
<line x1="121.6" y1="378.5" x2="121.6" y2="382.6" stroke="#333" stroke-width="0.8"/>
<text x="124.1" y="386.2" font-size="7" text-anchor="end" fill="#2a2a2a" font-weight="normal" stroke="#2a2a2a" stroke-width="0.08" transform="rotate(-90 124.1 386.2)" >Dibutyryl-cAMP</text>
<line x1="141.5" y1="378.5" x2="141.5" y2="382.6" stroke="#333" stroke-width="0.8"/>
<text x="144.0" y="386.2" font-size="7" text-anchor="end" fill="#2a2a2a" font-weight="normal" stroke="#2a2a2a" stroke-width="0.08" transform="rotate(-90 144.0 386.2)" >8-Br-cAMP</text>
<line x1="162.3" y1="378.5" x2="162.3" y2="382.6" stroke="#333" stroke-width="0.8"/>
<text x="164.8" y="386.2" font-size="7" text-anchor="end" fill="#2a2a2a" font-weight="normal" stroke="#2a2a2a" stroke-width="0.08" transform="rotate(-90 164.8 386.2)" >Forskolin</text>
<line x1="251.6" y1="251.6" x2="255" y2="251.6" stroke="#2c2c2c" stroke-width="0.8"/>
<text x="248.0" y="254.0" font-size="6.8" text-anchor="end" fill="#222" font-weight="normal" stroke="#222" stroke-width="0.22" >0</text>
<line x1="251.6" y1="274.65999999999997" x2="255" y2="274.65999999999997" stroke="#2c2c2c" stroke-width="0.8"/>
<text x="248.0" y="277.05999999999995" font-size="6.8" text-anchor="end" fill="#222" font-weight="normal" stroke="#222" stroke-width="0.22" >20</text>
<line x1="251.6" y1="297.71999999999997" x2="255" y2="297.71999999999997" stroke="#2c2c2c" stroke-width="0.8"/>
<text x="248.0" y="300.11999999999995" font-size="6.8" text-anchor="end" fill="#222" font-weight="normal" stroke="#222" stroke-width="0.22" >40</text>
<line x1="251.6" y1="320.78" x2="255" y2="320.78" stroke="#2c2c2c" stroke-width="0.8"/>
<text x="248.0" y="323.17999999999995" font-size="6.8" text-anchor="end" fill="#222" font-weight="normal" stroke="#222" stroke-width="0.22" >60</text>
<line x1="251.6" y1="343.84" x2="255" y2="343.84" stroke="#2c2c2c" stroke-width="0.8"/>
<text x="248.0" y="346.23999999999995" font-size="6.8" text-anchor="end" fill="#222" font-weight="normal" stroke="#222" stroke-width="0.22" >80</text>
<line x1="251.6" y1="366.9" x2="255" y2="366.9" stroke="#2c2c2c" stroke-width="0.8"/>
<text x="248.0" y="369.29999999999995" font-size="6.8" text-anchor="end" fill="#222" font-weight="normal" stroke="#222" stroke-width="0.22" >100</text>
<line x1="255.2" y1="367" x2="255.2" y2="370" stroke="#2c2c2c" stroke-width="0.8"/>
<text x="255.2" y="379.8" font-size="6.5" text-anchor="middle" fill="#222" font-weight="normal" stroke="#222" stroke-width="0.22" >0</text>
<line x1="271.2" y1="367" x2="271.2" y2="370" stroke="#2c2c2c" stroke-width="0.8"/>
<text x="271.2" y="379.8" font-size="6.5" text-anchor="middle" fill="#222" font-weight="normal" stroke="#222" stroke-width="0.22" >1</text>
<line x1="287.2" y1="367" x2="287.2" y2="370" stroke="#2c2c2c" stroke-width="0.8"/>
<text x="287.2" y="379.8" font-size="6.5" text-anchor="middle" fill="#222" font-weight="normal" stroke="#222" stroke-width="0.22" >2</text>
<line x1="303.2" y1="367" x2="303.2" y2="370" stroke="#2c2c2c" stroke-width="0.8"/>
<text x="303.2" y="379.8" font-size="6.5" text-anchor="middle" fill="#222" font-weight="normal" stroke="#222" stroke-width="0.22" >3</text>
<line x1="319.2" y1="367" x2="319.2" y2="370" stroke="#2c2c2c" stroke-width="0.8"/>
<text x="319.2" y="379.8" font-size="6.5" text-anchor="middle" fill="#222" font-weight="normal" stroke="#222" stroke-width="0.22" >4</text>
<line x1="335.2" y1="367" x2="335.2" y2="370" stroke="#2c2c2c" stroke-width="0.8"/>
<text x="335.2" y="379.8" font-size="6.5" text-anchor="middle" fill="#222" font-weight="normal" stroke="#222" stroke-width="0.22" >5</text>
<line x1="351.2" y1="367" x2="351.2" y2="370" stroke="#2c2c2c" stroke-width="0.8"/>
<text x="351.2" y="379.8" font-size="6.5" text-anchor="middle" fill="#222" font-weight="normal" stroke="#222" stroke-width="0.22" >6</text>
<text x="304.2" y="392.6" font-size="9" text-anchor="middle" fill="#222" font-weight="bold" textLength="31.4" lengthAdjust="spacingAndGlyphs" stroke="#222" stroke-width="0.12">Time (min)</text>
<text x="229.2" y="306.0" font-size="7.6" text-anchor="middle" fill="#222" font-weight="bold" textLength="75.5" lengthAdjust="spacingAndGlyphs" stroke="#222" stroke-width="0.12" transform="rotate(-90 229.2 306.0)">Platelets aggregation (%)</text>
<path d="M255.70,248.60 C256.08,248.55 256.95,248.37 258.00,248.30 C259.05,248.23 260.77,248.15 262.00,248.20 C263.23,248.25 264.40,248.30 265.40,248.60 C266.40,248.90 267.07,249.33 268.00,250.00 C268.93,250.67 269.90,251.73 271.00,252.60 C272.10,253.47 273.43,254.32 274.60,255.20 C275.77,256.08 276.85,257.07 278.00,257.90 C279.15,258.73 280.00,259.38 281.50,260.20 C283.00,261.02 285.08,262.02 287.00,262.80 C288.92,263.58 290.83,264.17 293.00,264.90 C295.17,265.63 298.07,266.62 300.00,267.20 C301.93,267.78 302.60,267.93 304.60,268.40 C306.60,268.87 309.30,269.48 312.00,270.00 C314.70,270.52 317.97,271.03 320.80,271.50 C323.63,271.97 326.30,272.42 329.00,272.80 C331.70,273.18 334.50,273.50 337.00,273.80 C339.50,274.10 341.70,274.35 344.00,274.60 C346.30,274.85 349.67,275.18 350.80,275.30" fill="none" stroke="#2fae5a" stroke-width="1.1"/>
<path d="M255.70,248.30 C256.08,248.25 256.95,248.07 258.00,248.00 C259.05,247.93 260.77,247.87 262.00,247.90 C263.23,247.93 264.40,247.93 265.40,248.20 C266.40,248.47 267.07,248.82 268.00,249.50 C268.93,250.18 269.90,251.42 271.00,252.30 C272.10,253.18 273.43,253.92 274.60,254.80 C275.77,255.68 276.85,256.77 278.00,257.60 C279.15,258.43 280.00,258.97 281.50,259.80 C283.00,260.63 285.08,261.73 287.00,262.60 C288.92,263.47 290.83,264.18 293.00,265.00 C295.17,265.82 298.07,266.85 300.00,267.50 C301.93,268.15 302.60,268.33 304.60,268.90 C306.60,269.47 309.30,270.23 312.00,270.90 C314.70,271.57 317.97,272.33 320.80,272.90 C323.63,273.47 326.30,273.85 329.00,274.30 C331.70,274.75 334.50,275.17 337.00,275.60 C339.50,276.03 341.70,276.47 344.00,276.90 C346.30,277.33 349.67,277.98 350.80,278.20" fill="none" stroke="#111" stroke-width="1.2"/>
<path d="M255.70,249.00 C256.08,249.00 257.07,249.00 258.00,249.00 C258.93,249.00 260.30,248.95 261.30,249.00 C262.30,249.05 263.05,248.97 264.00,249.30 C264.95,249.63 266.00,250.13 267.00,251.00 C268.00,251.87 269.12,253.57 270.00,254.50 C270.88,255.43 271.30,255.75 272.30,256.60 C273.30,257.45 274.47,258.72 276.00,259.60 C277.53,260.48 279.80,261.23 281.50,261.90 C283.20,262.57 284.65,263.10 286.20,263.60 C287.75,264.10 289.17,264.45 290.80,264.90 C292.43,265.35 294.47,265.85 296.00,266.30 C297.53,266.75 298.73,267.02 300.00,267.60 C301.27,268.18 302.52,269.13 303.60,269.80 C304.68,270.47 305.57,270.97 306.50,271.60 C307.43,272.23 308.37,272.93 309.20,273.60 C310.03,274.27 310.77,274.85 311.50,275.60 C312.23,276.35 312.85,277.00 313.60,278.10 C314.35,279.20 315.25,280.70 316.00,282.20 C316.75,283.70 317.43,285.55 318.10,287.10 C318.77,288.65 319.40,289.98 320.00,291.50 C320.60,293.02 320.97,293.92 321.70,296.20 C322.43,298.48 323.50,302.18 324.40,305.20 C325.30,308.22 326.18,311.28 327.10,314.30 C328.02,317.32 328.98,320.62 329.90,323.30 C330.82,325.98 331.55,328.52 332.60,330.40 C333.65,332.28 334.85,333.23 336.20,334.60 C337.55,335.97 339.17,337.40 340.70,338.60 C342.23,339.80 343.88,340.90 345.40,341.80 C346.92,342.70 349.07,343.63 349.80,344.00" fill="none" stroke="#c82450" stroke-width="0.95"/>
<polyline points="331.0,325.41 331.48,327.59 331.96,328.33 332.44,330.29 332.92,331.15 333.4,330.03 333.88,330.43 334.36,333.47 334.84,332.29 335.32,332.78 335.8,335.62 336.28,334.58 336.76,336.11 337.24,335.45 337.72,336.37 338.2,335.33 338.68,337.21 339.16,338.34 339.64,337.73 340.12,338.81 340.6,339.03 341.08,337.55 341.56,339.96 342.04,339.79 342.52,339.24 343.0,338.76 343.48,341.59 343.96,340.74 344.44,341.8 344.92,342.61 345.4,342.44 345.88,343.3 346.36,341.96 346.84,343.42 347.32,342.59 347.8,344.31 348.28,344.38 348.76,342.27 349.24,342.63 349.72,343.11" fill="none" stroke="#b81a44" stroke-width="0.8"/>
<line x1="261.9" y1="243.0" x2="261.9" y2="249.5" stroke="#cf2d55" stroke-width="0.9"/>
<rect x="256.5" y="248" width="1.6" height="118.5" fill="#f6f1dc" />
<line x1="255.4" y1="247.5" x2="255.4" y2="367.4" stroke="#111" stroke-width="2.2"/>
<line x1="255" y1="367.0" x2="353" y2="367.0" stroke="#2c2c2c" stroke-width="1.3"/>
<text x="332.8" y="267.9" font-size="7" text-anchor="start" fill="#5cc07c" font-weight="normal" stroke="#5cc07c" stroke-width="0.12" >ADP</text>
<text x="350.8" y="288.7" font-size="7" text-anchor="end" fill="#2a2a30" font-weight="normal" stroke="#2a2a30" stroke-width="0.22" >Cont IgG</text>
<text x="354.2" y="296.6" font-size="7" text-anchor="end" fill="#2a2a30" font-weight="normal" stroke="#2a2a30" stroke-width="0.22" >+ ADP</text>
<text x="346.8" y="357.3" font-size="7" text-anchor="end" fill="#d0385e" font-weight="normal" stroke="#d0385e" stroke-width="0.22" >APS IgG + ADP</text>
<line x1="404" y1="276.8" x2="404" y2="364.5" stroke="#2c2c2c" stroke-width="1.3"/>
<line x1="404" y1="364.5" x2="512" y2="364.5" stroke="#2c2c2c" stroke-width="1.3"/>
<line x1="400.5" y1="364.5" x2="404" y2="364.5" stroke="#2c2c2c" stroke-width="0.8"/>
<text x="398" y="366.8" font-size="6.5" text-anchor="end" fill="#222" font-weight="normal" stroke="#222" stroke-width="0.22" >0</text>
<line x1="400.5" y1="347.8" x2="404" y2="347.8" stroke="#2c2c2c" stroke-width="0.8"/>
<text x="398" y="350.1" font-size="6.5" text-anchor="end" fill="#222" font-weight="normal" stroke="#222" stroke-width="0.22" >20</text>
<line x1="400.5" y1="331.1" x2="404" y2="331.1" stroke="#2c2c2c" stroke-width="0.8"/>
<text x="398" y="333.40000000000003" font-size="6.5" text-anchor="end" fill="#222" font-weight="normal" stroke="#222" stroke-width="0.22" >40</text>
<line x1="400.5" y1="314.4" x2="404" y2="314.4" stroke="#2c2c2c" stroke-width="0.8"/>
<text x="398" y="316.7" font-size="6.5" text-anchor="end" fill="#222" font-weight="normal" stroke="#222" stroke-width="0.22" >60</text>
<line x1="400.5" y1="297.7" x2="404" y2="297.7" stroke="#2c2c2c" stroke-width="0.8"/>
<text x="398" y="300.0" font-size="6.5" text-anchor="end" fill="#222" font-weight="normal" stroke="#222" stroke-width="0.22" >80</text>
<line x1="400.5" y1="281.0" x2="404" y2="281.0" stroke="#2c2c2c" stroke-width="0.8"/>
<text x="398" y="283.3" font-size="6.5" text-anchor="end" fill="#222" font-weight="normal" stroke="#222" stroke-width="0.22" >100</text>
<text x="377.3" y="322.9" font-size="7.6" text-anchor="middle" fill="#222" font-weight="bold" textLength="69.6" lengthAdjust="spacingAndGlyphs" stroke="#222" stroke-width="0.12" transform="rotate(-90 377.3 322.9)">Platelet aggregation (%)</text>
<rect x="408.7" y="349.7" width="10.2" height="14.800000000000011" fill="#b9babe" />
<circle cx="411.9" cy="341.2" r="2.35" fill="#fff" stroke="#a4a5aa" stroke-width="0.95"/>
<circle cx="415.4" cy="344.5" r="2.35" fill="#fff" stroke="#a4a5aa" stroke-width="0.95"/>
<circle cx="411.3" cy="348.1" r="2.35" fill="#fff" stroke="#a4a5aa" stroke-width="0.95"/>
<circle cx="416.8" cy="347.8" r="2.35" fill="#fff" stroke="#a4a5aa" stroke-width="0.95"/>
<line x1="413.8" y1="364.5" x2="413.8" y2="367.7" stroke="#222" stroke-width="1.0"/>
<rect x="423.09999999999997" y="345.6" width="10.2" height="18.899999999999977" fill="#b9babe" />
<line x1="428.2" y1="345.6" x2="428.2" y2="331.4" stroke="#222" stroke-width="0.9"/>
<circle cx="425.8" cy="329.5" r="2.35" fill="#fff" stroke="#a4a5aa" stroke-width="0.95"/>
<circle cx="431.8" cy="330.9" r="2.35" fill="#fff" stroke="#a4a5aa" stroke-width="0.95"/>
<circle cx="425.8" cy="347.5" r="2.35" fill="#fff" stroke="#a4a5aa" stroke-width="0.95"/>
<circle cx="430.6" cy="348.5" r="2.35" fill="#fff" stroke="#a4a5aa" stroke-width="0.95"/>
<circle cx="428.2" cy="362.7" r="2.35" fill="#fff" stroke="#a4a5aa" stroke-width="0.95"/>
<line x1="428.2" y1="364.5" x2="428.2" y2="367.7" stroke="#222" stroke-width="1.0"/>
<rect x="438.0" y="305.3" width="10.2" height="59.19999999999999" fill="#dc4e6a" />
<line x1="443.1" y1="305.3" x2="443.1" y2="288.7" stroke="#d23c5c" stroke-width="0.9"/>
<circle cx="440" cy="295.4" r="2.35" fill="#fff" stroke="#d23c5c" stroke-width="0.95"/>
<circle cx="443.6" cy="295.4" r="2.35" fill="#fff" stroke="#d23c5c" stroke-width="0.95"/>
<circle cx="442.4" cy="300.6" r="2.35" fill="#fff" stroke="#d23c5c" stroke-width="0.95"/>
<circle cx="444.8" cy="298.2" r="2.35" fill="#fff" stroke="#d23c5c" stroke-width="0.95"/>
<circle cx="442.4" cy="334.2" r="2.35" fill="#fff" stroke="#d23c5c" stroke-width="0.95"/>
<line x1="443.1" y1="364.5" x2="443.1" y2="367.7" stroke="#222" stroke-width="1.0"/>
<rect x="452.4" y="352.6" width="10.2" height="11.899999999999977" fill="#5cb878" />
<line x1="457.5" y1="352.6" x2="457.5" y2="340.9" stroke="#3a9a5a" stroke-width="0.9"/>
<circle cx="455.4" cy="343" r="2.35" fill="#eef8f0" stroke="#3a9a5a" stroke-width="0.95"/>
<circle cx="458" cy="346.6" r="2.35" fill="#eef8f0" stroke="#3a9a5a" stroke-width="0.95"/>
<circle cx="454.9" cy="355.2" r="2.35" fill="#eef8f0" stroke="#3a9a5a" stroke-width="0.95"/>
<circle cx="459.3" cy="354.4" r="2.35" fill="#eef8f0" stroke="#3a9a5a" stroke-width="0.95"/>
<circle cx="455.9" cy="360.4" r="2.35" fill="#eef8f0" stroke="#3a9a5a" stroke-width="0.95"/>
<line x1="457.5" y1="364.5" x2="457.5" y2="367.7" stroke="#222" stroke-width="1.0"/>
<rect x="466.9" y="362.0" width="10.2" height="2.5" fill="#5cb878" />
<circle cx="469.7" cy="362.4" r="2.35" fill="#eef8f0" stroke="#3a9a5a" stroke-width="0.95"/>
<circle cx="472.3" cy="363.5" r="2.35" fill="#eef8f0" stroke="#3a9a5a" stroke-width="0.95"/>
<circle cx="474.5" cy="362.6" r="2.35" fill="#eef8f0" stroke="#3a9a5a" stroke-width="0.95"/>
<line x1="472.0" y1="364.5" x2="472.0" y2="367.7" stroke="#222" stroke-width="1.0"/>
<rect x="482.29999999999995" y="350.0" width="10.2" height="14.5" fill="#5cb878" />
<line x1="487.4" y1="350.0" x2="487.4" y2="334.4" stroke="#3a9a5a" stroke-width="0.9"/>
<circle cx="486.6" cy="323.2" r="2.35" fill="#eef8f0" stroke="#3a9a5a" stroke-width="0.95"/>
<circle cx="484.6" cy="352.6" r="2.35" fill="#eef8f0" stroke="#3a9a5a" stroke-width="0.95"/>
<circle cx="489.2" cy="351.3" r="2.35" fill="#eef8f0" stroke="#3a9a5a" stroke-width="0.95"/>
<circle cx="484.6" cy="359.1" r="2.35" fill="#eef8f0" stroke="#3a9a5a" stroke-width="0.95"/>
<circle cx="489.2" cy="359.6" r="2.35" fill="#eef8f0" stroke="#3a9a5a" stroke-width="0.95"/>
<line x1="487.4" y1="364.5" x2="487.4" y2="367.7" stroke="#222" stroke-width="1.0"/>
<rect x="496.4" y="361.3" width="10.2" height="3.1999999999999886" fill="#5cb878" />
<circle cx="499.2" cy="360.8" r="2.35" fill="#eef8f0" stroke="#3a9a5a" stroke-width="0.95"/>
<circle cx="501.6" cy="362.2" r="2.35" fill="#eef8f0" stroke="#3a9a5a" stroke-width="0.95"/>
<circle cx="504.0" cy="364.0" r="2.35" fill="#eef8f0" stroke="#3a9a5a" stroke-width="0.95"/>
<line x1="501.5" y1="364.5" x2="501.5" y2="367.7" stroke="#222" stroke-width="1.0"/>
<text x="416.3" y="371.7" font-size="6.9" text-anchor="end" fill="#222" font-weight="normal" stroke="#222" stroke-width="0.12" transform="rotate(-90 416.3 371.7)" >ADP</text>
<text x="430.7" y="371.7" font-size="6.9" text-anchor="end" fill="#222" font-weight="normal" stroke="#222" stroke-width="0.12" transform="rotate(-90 430.7 371.7)" >Cont IgG</text>
<text x="445.6" y="371.7" font-size="6.9" text-anchor="end" fill="#222" font-weight="normal" stroke="#222" stroke-width="0.12" transform="rotate(-90 445.6 371.7)" >APS IgG</text>
<text x="460.0" y="371.7" font-size="6.9" text-anchor="end" fill="#222" font-weight="normal" stroke="#222" stroke-width="0.12" transform="rotate(-90 460.0 371.7)" >A<tspan font-size="4.5" dy="2">2A</tspan><tspan dy="-2">R-a</tspan></text>
<text x="474.5" y="371.7" font-size="6.9" text-anchor="end" fill="#222" font-weight="normal" stroke="#222" stroke-width="0.12" transform="rotate(-90 474.5 371.7)" >Dibut-cAMP</text>
<text x="489.9" y="371.7" font-size="6.9" text-anchor="end" fill="#222" font-weight="normal" stroke="#222" stroke-width="0.12" transform="rotate(-90 489.9 371.7)" >8-Br-cAMP</text>
<text x="504.0" y="371.7" font-size="6.9" text-anchor="end" fill="#222" font-weight="normal" stroke="#222" stroke-width="0.12" transform="rotate(-90 504.0 371.7)" >Forskolin</text>
<polyline points="413.8,325.6 413.8,323.0 427.4,323.0 427.4,325.6" fill="none" stroke="#333" stroke-width="0.9"/>
<text x="420.5" y="320.0" font-size="6.8" text-anchor="middle" fill="#222" font-weight="normal" stroke="#222" stroke-width="0.22" >ns</text>
<polyline points="427.7,291.1 427.7,284.4 443.6,284.4 443.6,291.1" fill="none" stroke="#333" stroke-width="0.8"/>
<text x="435.3" y="282.6" font-size="6.5" text-anchor="middle" fill="#333" font-weight="bold" stroke="#333" stroke-width="0.1" >****</text>
<polyline points="442.4,284.4 442.4,273.2 486.6,273.2 486.6,311.7" fill="none" stroke="#555" stroke-width="0.8"/>
<line x1="453.3" y1="311.7" x2="509.5" y2="311.7" stroke="#555" stroke-width="0.8"/>
<text x="465.3" y="271.6" font-size="6.5" text-anchor="middle" fill="#333" font-weight="bold" stroke="#333" stroke-width="0.1" >****</text>
<polyline points="424.6,268.3 424.6,262.8 509.3,262.8 509.3,268.3" fill="none" stroke="#555" stroke-width="0.8"/>
<text x="467.0" y="259.8" font-size="7.2" text-anchor="middle" fill="#222" font-weight="normal" stroke="#222" stroke-width="0.22" >ADP</text>
<polyline points="453.3,412.4 453.3,420.3 509.6,420.3 509.6,412.4" fill="none" stroke="#444" stroke-width="0.9"/>
<text x="481.8" y="430.2" font-size="7" text-anchor="middle" fill="#222" font-weight="normal" stroke="#222" stroke-width="0.22" >APS IgG</text>
<rect x="0.5" y="0.5" width="519" height="441" fill="none" stroke="#505050" stroke-width="1"/>
</svg>
</body></html>
